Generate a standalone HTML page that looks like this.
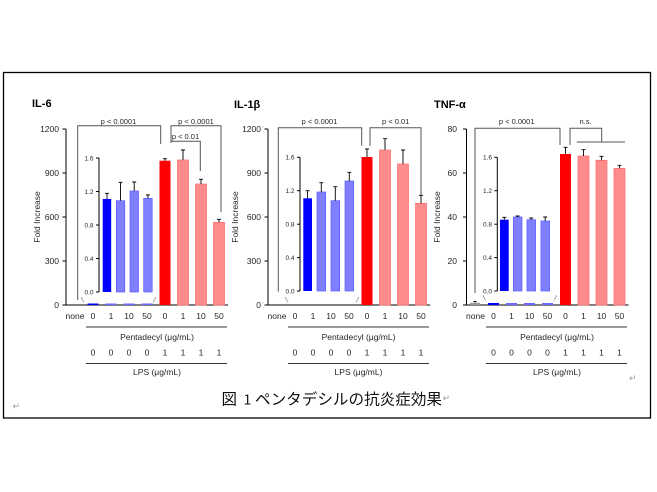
<!DOCTYPE html>
<html><head><meta charset="utf-8"><style>
html,body{margin:0;padding:0;background:#fff;}
svg{display:block;}
text{font-family:"Liberation Sans",Arial,sans-serif;fill:#262626;}
.t{font-size:8.5px;}
.i{font-size:6.5px;}
.p{font-size:7.5px;}
.h{font-size:11px;font-weight:bold;fill:#000;}
.ax{stroke:#000;stroke-width:1;fill:none;}
.br{stroke:#555;stroke-width:1;fill:none;}
.er{stroke:#000;stroke-width:0.9;fill:none;}
.lb{fill:#8080ff;stroke:#5c5cff;stroke-width:0.7;}
.lr{fill:#ff8c8c;stroke:#ff6b6b;stroke-width:0.7;}
.bk{stroke:#555;stroke-width:0.9;stroke-dasharray:1.4,1;}
.rt{font-family:"DejaVu Sans",sans-serif;font-size:9px;fill:#999;}
</style></head><body>
<svg width="657" height="492" viewBox="0 0 657 492" xmlns="http://www.w3.org/2000/svg">
<rect x="0" y="0" width="657" height="492" fill="#fff"/>
<rect x="3.5" y="72.5" width="647" height="345.5" fill="none" stroke="#000" stroke-width="1.3"/>

<!-- ================= CHART 1: IL-6 ================= -->
<text class="h" x="32" y="107">IL-6</text>
<text class="t" transform="translate(40,217) rotate(-90)" text-anchor="middle">Fold Increase</text>
<g class="ax">
<line x1="66" y1="129" x2="66" y2="305"/>
<line x1="66" y1="305" x2="228" y2="305"/>
<line x1="62.5" y1="129" x2="66" y2="129"/><line x1="62.5" y1="173" x2="66" y2="173"/><line x1="62.5" y1="217" x2="66" y2="217"/><line x1="62.5" y1="261" x2="66" y2="261"/><line x1="62.5" y1="305" x2="66" y2="305"/>
</g>
<g class="t" text-anchor="end">
<text x="59" y="132">1200</text><text x="59" y="176">900</text><text x="59" y="220">600</text><text x="59" y="264">300</text><text x="59" y="308">0</text>
</g>
<!-- inset -->
<g class="ax">
<line x1="99" y1="158" x2="99" y2="292"/>
<line x1="96" y1="158" x2="99" y2="158"/><line x1="96" y1="191.5" x2="99" y2="191.5"/><line x1="96" y1="225" x2="99" y2="225"/><line x1="96" y1="258.5" x2="99" y2="258.5"/><line x1="96" y1="292" x2="99" y2="292"/>
</g>
<g class="i" text-anchor="end">
<text x="93.5" y="160.3">1.6</text><text x="93.5" y="193.8">1.2</text><text x="93.5" y="227.3">0.8</text><text x="93.5" y="260.8">0.4</text><text x="93.5" y="294.3">0.0</text>
</g>
<rect x="102.7" y="199" width="8.5" height="93" fill="#0000ff"/>
<rect class="lb" x="116.3" y="200.7" width="8.5" height="91.3"/>
<rect class="lb" x="130" y="191" width="8.5" height="101"/>
<rect class="lb" x="143.7" y="198.3" width="8.5" height="93.7"/>
<path class="er" d="M107,199V193.3M105,193.3H109 M120.5,200.7V182.3M118.5,182.3H122.5 M134.2,191V182M132.2,182H136.2 M147.9,198.3V195M145.9,195H149.9"/>
<!-- main red bars -->
<rect x="159.5" y="160.7" width="11" height="144.3" fill="#ff0000"/>
<rect class="lr" x="177.5" y="160" width="11" height="145"/>
<rect class="lr" x="195.5" y="184" width="11" height="121"/>
<rect class="lr" x="213.5" y="222.3" width="11" height="82.7"/>
<path class="er" d="M165,160.7V158.7M163,158.7H167 M183,160V150M181,150H185 M201,184V179.3M199,179.3H203 M219,222.3V219.3M217,219.3H221"/>
<rect x="87.5" y="303.5" width="11" height="1.5" fill="#0000ff"/>
<rect x="105.5" y="303.5" width="11" height="1.5" fill="#6a6aff"/>
<rect x="123.5" y="303.5" width="11" height="1.5" fill="#6a6aff"/>
<rect x="141.5" y="303.5" width="11" height="1.5" fill="#6a6aff"/>
<line class="bk" x1="81.5" y1="297.5" x2="84" y2="302.5"/>
<line class="bk" x1="155.5" y1="297.5" x2="153" y2="302.5"/>
<!-- brackets -->
<path class="br" d="M77.7,300V125.7H160.7V144"/>
<path class="br" d="M171,143V125.7H221V212"/>
<path class="br" d="M171,141.3H200.3V171"/>
<g class="p" text-anchor="middle">
<text x="118.5" y="124">p &lt; 0.0001</text>
<text x="196" y="124">p &lt; 0.0001</text>
<text x="185.5" y="139">p &lt; 0.01</text>
</g>
<!-- x labels -->
<g class="t" text-anchor="middle">
<text x="75" y="319">none</text><text x="93" y="319">0</text><text x="111" y="319">1</text><text x="129" y="319">10</text><text x="147" y="319">50</text><text x="165" y="319">0</text><text x="183" y="319">1</text><text x="201" y="319">10</text><text x="219" y="319">50</text>
<text x="157" y="340">Pentadecyl (μg/mL)</text>
<text x="93" y="355.5">0</text><text x="111" y="355.5">0</text><text x="129" y="355.5">0</text><text x="147" y="355.5">0</text><text x="165" y="355.5">1</text><text x="183" y="355.5">1</text><text x="201" y="355.5">1</text><text x="219" y="355.5">1</text>
<text x="157" y="375">LPS (μg/mL)</text>
</g>
<line x1="86" y1="327" x2="227" y2="327" stroke="#333" stroke-width="1"/>
<line x1="86" y1="363.5" x2="227" y2="363.5" stroke="#333" stroke-width="1"/>

<!-- ================= CHART 2: IL-1β ================= -->
<text class="h" x="234" y="108">IL-1β</text>
<text class="t" transform="translate(238,217) rotate(-90)" text-anchor="middle">Fold Increase</text>
<g class="ax">
<line x1="268" y1="129" x2="268" y2="305"/>
<line x1="268" y1="305" x2="430" y2="305"/>
<line x1="264.5" y1="129" x2="268" y2="129"/><line x1="264.5" y1="173" x2="268" y2="173"/><line x1="264.5" y1="217" x2="268" y2="217"/><line x1="264.5" y1="261" x2="268" y2="261"/><line x1="264.5" y1="305" x2="268" y2="305"/>
</g>
<g class="t" text-anchor="end">
<text x="261" y="132">1200</text><text x="261" y="176">900</text><text x="261" y="220">600</text><text x="261" y="264">300</text><text x="261" y="308">0</text>
</g>
<g class="ax">
<line x1="300" y1="157.3" x2="300" y2="291"/>
<line x1="297" y1="157.3" x2="300" y2="157.3"/><line x1="297" y1="190.7" x2="300" y2="190.7"/><line x1="297" y1="224.2" x2="300" y2="224.2"/><line x1="297" y1="257.6" x2="300" y2="257.6"/><line x1="297" y1="291" x2="300" y2="291"/>
</g>
<g class="i" text-anchor="end">
<text x="294.5" y="159.6">1.6</text><text x="294.5" y="193">1.2</text><text x="294.5" y="226.5">0.8</text><text x="294.5" y="259.9">0.4</text><text x="294.5" y="293.3">0.0</text>
</g>
<rect x="303.3" y="198.3" width="8.7" height="92.7" fill="#0000ff"/>
<rect class="lb" x="317" y="192" width="8.7" height="99"/>
<rect class="lb" x="331" y="200.7" width="8.7" height="90.3"/>
<rect class="lb" x="345" y="181" width="8.7" height="110"/>
<path class="er" d="M307.6,198.3V190.7M305.6,190.7H309.6 M321.3,192V182.7M319.3,182.7H323.3 M335.3,200.7V186.7M333.3,186.7H337.3 M349.3,181V172.3M347.3,172.3H351.3"/>
<rect x="361.5" y="157" width="11" height="148" fill="#ff0000"/>
<rect class="lr" x="379.5" y="150" width="11" height="155"/>
<rect class="lr" x="397.5" y="164" width="11" height="141"/>
<rect class="lr" x="415.5" y="203.3" width="11" height="101.7"/>
<path class="er" d="M367,157V149M365,149H369 M385,150V138.7M383,138.7H387 M403,164V150M401,150H405 M421,203.3V195.3M419,195.3H423"/>
<line class="bk" x1="285.5" y1="297.5" x2="288" y2="302.5"/>
<line class="bk" x1="358.5" y1="297.5" x2="356" y2="302.5"/>
<path class="br" d="M278.3,291.7V127.7H361.7V145.7"/>
<path class="br" d="M370,145.7V127.7H421V195"/>
<g class="p" text-anchor="middle">
<text x="319.5" y="124">p &lt; 0.0001</text>
<text x="395.7" y="124">p &lt; 0.01</text>
</g>
<g class="t" text-anchor="middle">
<text x="277" y="319">none</text><text x="295" y="319">0</text><text x="313" y="319">1</text><text x="331" y="319">10</text><text x="349" y="319">50</text><text x="367" y="319">0</text><text x="385" y="319">1</text><text x="403" y="319">10</text><text x="421" y="319">50</text>
<text x="358.5" y="340">Pentadecyl (μg/mL)</text>
<text x="295" y="355.5">0</text><text x="313" y="355.5">0</text><text x="331" y="355.5">0</text><text x="349" y="355.5">0</text><text x="367" y="355.5">1</text><text x="385" y="355.5">1</text><text x="403" y="355.5">1</text><text x="421" y="355.5">1</text>
<text x="358.5" y="375">LPS (μg/mL)</text>
</g>
<line x1="288" y1="327" x2="429" y2="327" stroke="#333" stroke-width="1"/>
<line x1="288" y1="363.5" x2="429" y2="363.5" stroke="#333" stroke-width="1"/>

<!-- ================= CHART 3: TNF-α ================= -->
<text class="h" x="434" y="108">TNF-α</text>
<text class="t" transform="translate(440,217) rotate(-90)" text-anchor="middle">Fold Increase</text>
<g class="ax">
<line x1="466.5" y1="129" x2="466.5" y2="305"/>
<line x1="466.5" y1="305" x2="628.5" y2="305"/>
<line x1="463" y1="129" x2="466.5" y2="129"/><line x1="463" y1="173" x2="466.5" y2="173"/><line x1="463" y1="217" x2="466.5" y2="217"/><line x1="463" y1="261" x2="466.5" y2="261"/><line x1="463" y1="305" x2="466.5" y2="305"/>
</g>
<g class="t" text-anchor="end">
<text x="457" y="132">80</text><text x="457" y="176">60</text><text x="457" y="220">40</text><text x="457" y="264">20</text><text x="457" y="308">0</text>
</g>
<g class="ax">
<line x1="497.3" y1="157.3" x2="497.3" y2="291"/>
<line x1="494.3" y1="157.3" x2="497.3" y2="157.3"/><line x1="494.3" y1="190.7" x2="497.3" y2="190.7"/><line x1="494.3" y1="224.2" x2="497.3" y2="224.2"/><line x1="494.3" y1="257.6" x2="497.3" y2="257.6"/><line x1="494.3" y1="291" x2="497.3" y2="291"/>
</g>
<g class="i" text-anchor="end">
<text x="492" y="159.6">1.6</text><text x="492" y="193">1.2</text><text x="492" y="226.5">0.8</text><text x="492" y="259.9">0.4</text><text x="492" y="293.3">0.0</text>
</g>
<rect x="500" y="219.7" width="8.7" height="71.3" fill="#0000ff"/>
<rect class="lb" x="513.3" y="217" width="8.7" height="74"/>
<rect class="lb" x="526.9" y="219.7" width="8.7" height="71.3"/>
<rect class="lb" x="540.9" y="221" width="8.7" height="70"/>
<path class="er" d="M504.3,219.7V217.3M502.3,217.3H506.3 M517.6,217V216M515.6,216H519.6 M531.2,219.7V218M529.2,218H533.2 M545.2,221V217M543.2,217H547.2"/>
<rect x="560" y="154" width="11" height="151" fill="#ff0000"/>
<rect class="lr" x="578" y="156" width="11" height="149"/>
<rect class="lr" x="596" y="160.3" width="11" height="144.7"/>
<rect class="lr" x="614" y="168.3" width="11" height="136.7"/>
<path class="er" d="M565.5,154V147.3M563.5,147.3H567.5 M583.5,156V149.7M581.5,149.7H585.5 M601.5,160.3V156.3M599.5,156.3H603.5 M619.5,168.3V165.3M617.5,165.3H621.5"/>
<rect x="470" y="302.8" width="10" height="2.2" fill="#999"/>
<path class="er" d="M475,302.8V301.5M473.5,301.5H476.5" stroke="#777"/>
<rect x="488" y="303" width="11" height="2" fill="#0000ff"/>
<rect x="506" y="303" width="11" height="2" fill="#6a6aff"/>
<rect x="524" y="303" width="11" height="2" fill="#6a6aff"/>
<rect x="542" y="303" width="11" height="2" fill="#6a6aff"/>
<line class="bk" x1="483" y1="295.5" x2="485.5" y2="300.5"/>
<line class="bk" x1="556.5" y1="295.5" x2="554" y2="300.5"/>
<path class="br" d="M475,293V128.3H560V145"/>
<path class="br" d="M570,145V128.3H601.7V142"/>
<path class="br" d="M576.7,142H625"/>
<g class="p" text-anchor="middle">
<text x="516.7" y="124">p &lt; 0.0001</text>
<text x="585.5" y="124">n.s.</text>
</g>
<g class="t" text-anchor="middle">
<text x="475.5" y="319">none</text><text x="493.5" y="319">0</text><text x="511.5" y="319">1</text><text x="529.5" y="319">10</text><text x="547.5" y="319">50</text><text x="565.5" y="319">0</text><text x="583.5" y="319">1</text><text x="601.5" y="319">10</text><text x="619.5" y="319">50</text>
<text x="557" y="340">Pentadecyl (μg/mL)</text>
<text x="493.5" y="355.5">0</text><text x="511.5" y="355.5">0</text><text x="529.5" y="355.5">0</text><text x="547.5" y="355.5">0</text><text x="565.5" y="355.5">1</text><text x="583.5" y="355.5">1</text><text x="601.5" y="355.5">1</text><text x="619.5" y="355.5">1</text>
<text x="557" y="375">LPS (μg/mL)</text>
</g>
<line x1="486" y1="327" x2="627" y2="327" stroke="#333" stroke-width="1"/>
<line x1="486" y1="363.5" x2="627" y2="363.5" stroke="#333" stroke-width="1"/>

<!-- caption & return marks -->
<g style="font-family:'Liberation Sans','Noto Sans CJK JP',sans-serif;font-size:15.5px;">
<text x="221.5" y="404.5" style="font-family:'Noto Sans CJK JP',sans-serif;fill:#111;">図</text>
<text x="243.5" y="404.5" style="font-family:'Noto Sans CJK JP',sans-serif;fill:#111;font-size:14px;">1</text>
<text x="255" y="404.5" textLength="187" lengthAdjust="spacingAndGlyphs" style="font-family:'Noto Sans CJK JP',sans-serif;fill:#111;">ペンタデシルの抗炎症効果</text>
</g>
<text class="rt" x="442.5" y="401">↵</text>
<text class="rt" x="12.5" y="409">↵</text>
<text class="rt" x="629" y="381">↵</text>
</svg>
</body></html>
